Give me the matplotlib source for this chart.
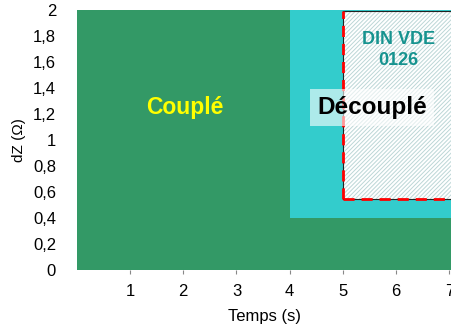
import matplotlib.pyplot as plt
from matplotlib.patches import Rectangle

plt.rcParams['font.family'] = ['Liberation Sans', 'DejaVu Sans']
plt.rcParams['hatch.linewidth'] = 0.7

# zones (x0, x1, y0, y1)
zones = ["Couplé", "Découplé", "DIN VDE\n0126"]
x_start = [0, 4, 5]
x_end = [7.1, 7.1, 7.1]
y_low = [0, 0.4, 0.55]
y_high = [2, 2, 2]
xticks = [1, 2, 3, 4, 5, 6, 7]
yticks = [0, 0.2, 0.4, 0.6, 0.8, 1, 1.2, 1.4, 1.6, 1.8, 2]
ylabels = ["0", "0,2", "0,4", "0,6", "0,8", "1", "1,2", "1,4", "1,6", "1,8", "2"]

fig = plt.figure(figsize=(4.52, 3.29), dpi=100)
ax = fig.add_axes([0.170, 0.179, 0.830, 0.791])

# coupled zone
ax.add_patch(Rectangle((x_start[0], y_low[0]), x_end[0] - x_start[0], y_high[0] - y_low[0],
                       facecolor='#339966', edgecolor='none'))
# decoupled zone
ax.add_patch(Rectangle((x_start[1], y_low[1]), x_end[1] - x_start[1], y_high[1] - y_low[1],
                       facecolor='#33cccc', edgecolor='none'))
# DIN VDE zone, hatched
w = x_end[2] - x_start[2]
h = y_high[2] - y_low[2] - 0.01
ax.add_patch(Rectangle((x_start[2], y_low[2]), w, h,
                       facecolor='white', edgecolor='#bcd6d6', linewidth=0, hatch='////////'))
ax.add_patch(Rectangle((x_start[2], y_low[2]), w, h,
                       facecolor='none', edgecolor='#222222', linewidth=0.8))
ax.plot([x_start[2], x_start[2]], [y_low[2], y_high[2] - 0.01], color='red', lw=2, ls=(0, (4, 2.5)))
ax.plot([x_start[2], x_end[2]], [y_low[2], y_low[2]], color='red', lw=2, ls=(0, (4, 2.5)))

ax.text(2.03, 1.25, zones[0], color='#ffff00', fontsize=16.5, fontweight='bold', ha='center', va='center')
ax.text(5.55, 1.25, zones[1], color='black', fontsize=17.5, fontweight='bold', ha='center', va='center',
        bbox=dict(boxstyle='square,pad=0.28', facecolor='white', edgecolor='none', alpha=0.6))
ax.text(6.05, 1.69, zones[2], color='#16938f', fontsize=13, fontweight='bold', ha='center',
        va='center', linespacing=1.3)

ax.set_xlim(0, 7.05)
ax.set_ylim(0, 2)
ax.set_xticks(xticks)
ax.set_yticks(yticks)
ax.set_yticklabels(ylabels)
ax.tick_params(axis='x', length=3, color='#888888', labelsize=12, pad=7)
ax.tick_params(axis='y', length=0, labelsize=12, pad=15)
for s in ax.spines.values():
    s.set_visible(False)
ax.set_xlabel("Temps (s)", fontsize=12, labelpad=7)
ax.set_ylabel("dZ (Ω)", fontsize=11, labelpad=5)

fig.savefig("out.png", dpi=100)
